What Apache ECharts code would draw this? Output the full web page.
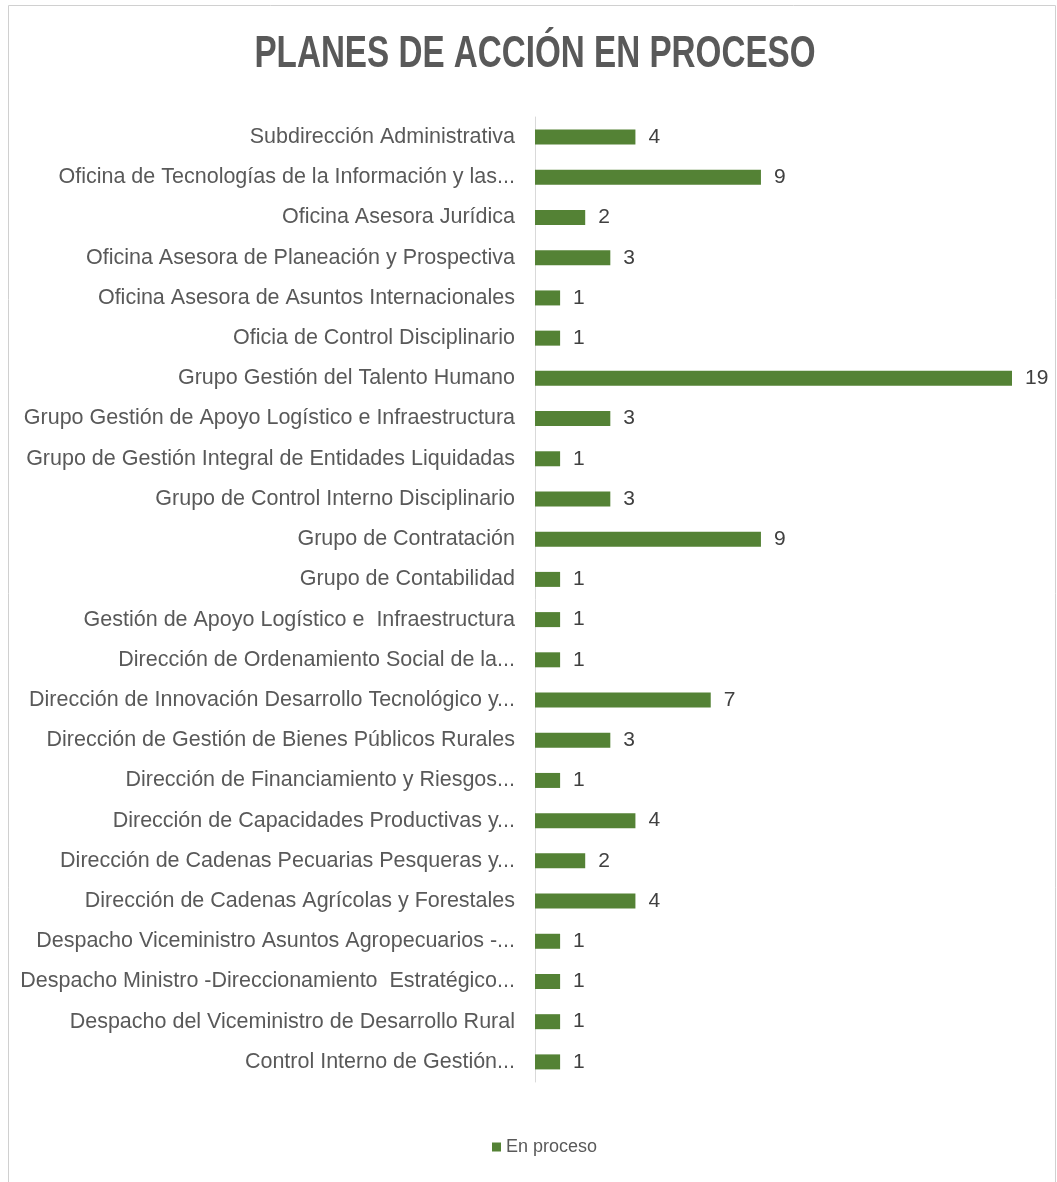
<!DOCTYPE html>
<html>
<head>
<meta charset="utf-8">
<script src="https://cdn.jsdelivr.net/npm/echarts@6/dist/echarts.min.js"></script>
<style>
  html, body { margin: 0; padding: 0; background: #fff; }
  #main { width: 1057px; height: 1182px; }
</style>
</head>
<body>
<div id="main"></div>
<script>
var categories = [
  'Subdirección Administrativa',
  'Oficina de Tecnologías de la Información y las...',
  'Oficina Asesora Jurídica',
  'Oficina Asesora de Planeación y Prospectiva',
  'Oficina Asesora de Asuntos Internacionales',
  'Oficia de Control Disciplinario',
  'Grupo Gestión del Talento Humano',
  'Grupo Gestión de Apoyo Logístico e Infraestructura',
  'Grupo de Gestión Integral de Entidades Liquidadas',
  'Grupo de Control Interno Disciplinario',
  'Grupo de Contratación',
  'Grupo de Contabilidad',
  'Gestión de Apoyo Logístico e  Infraestructura',
  'Dirección de Ordenamiento Social de la...',
  'Dirección de Innovación Desarrollo Tecnológico y...',
  'Dirección de Gestión de Bienes Públicos Rurales',
  'Dirección de Financiamiento y Riesgos...',
  'Dirección de Capacidades Productivas y...',
  'Dirección de Cadenas Pecuarias Pesqueras y...',
  'Dirección de Cadenas Agrícolas y Forestales',
  'Despacho Viceministro Asuntos Agropecuarios -...',
  'Despacho Ministro -Direccionamiento  Estratégico...',
  'Despacho del Viceministro de Desarrollo Rural',
  'Control Interno de Gestión...'
];
var enProceso = [4, 9, 2, 3, 1, 1, 19, 3, 1, 3, 9, 1, 1, 1, 7, 3, 1, 4, 2, 4, 1, 1, 1, 1];
var chartTitle = 'PLANES DE ACCIÓN EN PROCESO';

var myChart = echarts.init(document.getElementById('main'));
var font = '"Liberation Sans", Arial, sans-serif';

var option = {
  animation: false,
  legend: {
    top: 1133,
    left: 487,
    itemWidth: 9,
    itemHeight: 9,
    itemGap: 4,
    icon: 'rect',
    textStyle: { fontFamily: font, fontSize: 18, color: '#595959' },
    data: ['En proceso']
  },
  grid: { left: 535, top: 117, width: 477, height: 965 },
  xAxis: {
    type: 'value',
    min: 0,
    max: 19,
    show: false
  },
  yAxis: {
    type: 'category',
    inverse: true,
    data: categories,
    axisLine: { lineStyle: { color: '#d9d9d9' } },
    axisTick: { show: false },
    axisLabel: { fontFamily: font, fontSize: 21.5, color: '#595959', margin: 20 }
  },
  series: [{
    name: 'En proceso',
    type: 'bar',
    barWidth: 15,
    itemStyle: { color: '#548235' },
    label: { show: true, position: 'right', distance: 13, fontFamily: font, fontSize: 21, color: '#404040' },
    data: enProceso
  }],
  graphic: [{
    type: 'polyline',
    shape: { points: [[8.5, 1182], [8.5, 5.5], [1055.5, 5.5], [1055.5, 1182]] },
    style: { fill: null, stroke: '#d0d0d0', lineWidth: 1 }
  }, {
    // condensed bold title
    type: 'text',
    x: 535,
    y: 55,
    scaleX: 0.755,
    style: {
      text: chartTitle,
      fontFamily: font,
      fontSize: 44,
      fontWeight: 'bold',
      fill: '#595959',
      align: 'center',
      verticalAlign: 'middle'
    }
  }]
};
myChart.setOption(option);
</script>
</body>
</html>
